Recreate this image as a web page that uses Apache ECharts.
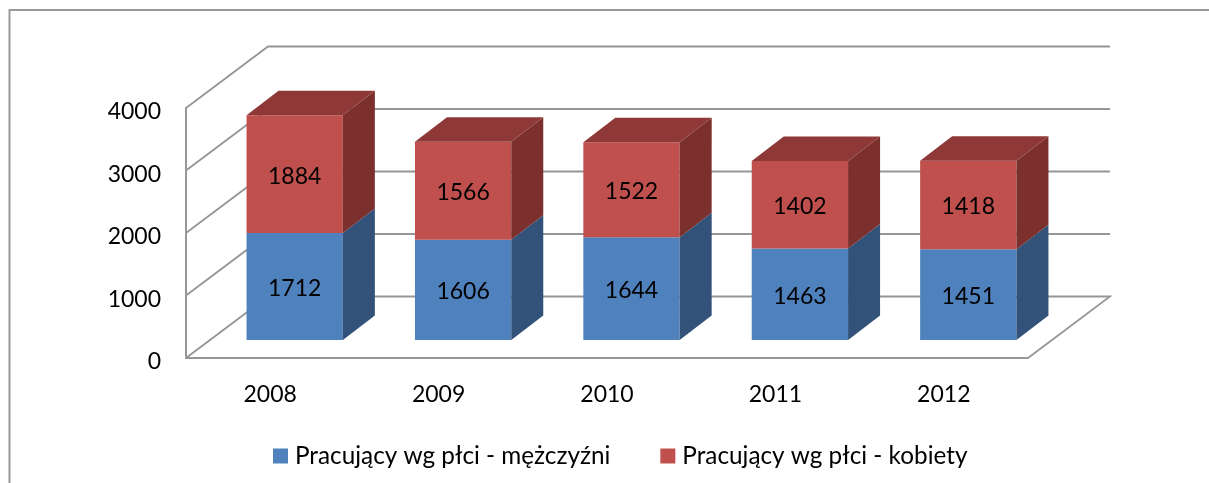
<!DOCTYPE html>
<html>
<head>
<meta charset="utf-8">
<title>Pracujący wg płci</title>
<style>
html, body { margin: 0; padding: 0; background: #fff; }
#chart { width: 1209px; height: 483px; }
</style>
<script src="https://cdn.jsdelivr.net/npm/echarts@6/dist/echarts.min.js"></script>
</head>
<body>
<div id="chart"></div>
<script>
var categories = ['2008', '2009', '2010', '2011', '2012'];
var men = [1712, 1606, 1644, 1463, 1451];
var women = [1884, 1566, 1522, 1402, 1418];
var yTicks = [0, 1000, 2000, 3000, 4000];
var menName = 'Pracujący wg płci - mężczyźni';
var womenName = 'Pracujący wg płci - kobiety';

// przesuniecia "3D" w pikselach
var wallDx = 82, wallDy = -61.5;
var barShiftX = 24.5, barShiftY = -18;
var barDx = 32, barDy = -24.5;
var barRatio = 0.572;

var FONT = 'Lato';
var LINE = '#969696';

var chart = echarts.init(document.getElementById('chart'), null, { renderer: 'canvas' });

function poly(points, color) {
    return { type: 'polygon', shape: { points: points }, style: { fill: color } };
}

// sciana i podloga
function renderWall(params, api) {
    var tick = api.value(1);
    var area = params.coordSys;
    var left = api.coord([0, tick]);
    var y = left[1];
    var x0 = area.x, x1 = area.x + area.width;
    var pts = [[x0, y], [x0 + wallDx, y + wallDy], [x1 + wallDx, y + wallDy]];
    if (tick === 0) pts.push([x1, y]);
    return {
        type: 'polyline',
        shape: { points: pts },
        style: { fill: 'none', stroke: LINE, lineWidth: 1.8 }
    };
}

// jeden segment slupka: front, bok, gora i etykieta
function renderBar(sideColor, topColor) {
    return function (params, api) {
        var low = api.coord([api.value(0), api.value(1)]);
        var high = api.coord([api.value(0), api.value(2)]);
        var w = api.size([1, 0])[0] * barRatio;
        var l = low[0] + barShiftX - w / 2, r = l + w;
        var b = low[1] + barShiftY, t = high[1] + barShiftY;
        var children = [
            { type: 'rect', shape: { x: l, y: t, width: w, height: b - t }, style: { fill: api.visual('color') } },
            poly([[r, b], [r + barDx, b + barDy], [r + barDx, t + barDy], [r, t]], sideColor)
        ];
        if (params.seriesName === womenName) {
            children.push(poly([[l, t], [l + barDx, t + barDy], [r + barDx, t + barDy], [r, t]], topColor));
        }
        children.push({
            type: 'text',
            x: (l + r) / 2,
            y: (t + b) / 2 + 2,
            style: { text: String(api.value(3)), fill: '#000', font: '23px ' + FONT, align: 'center', verticalAlign: 'middle' }
        });
        return { type: 'group', children: children };
    };
}

var wallData = yTicks.map(function (v) { return [0, v]; });
var menData = men.map(function (v, i) { return [i, 0, v, v]; });
var womenData = women.map(function (v, i) { return [i, men[i], men[i] + v, v]; });

var option = {
    animation: false,
    backgroundColor: '#fff',
    textStyle: { fontFamily: FONT },
    graphic: [{
        type: 'polyline',
        silent: true,
        shape: { points: [[9.5, 483], [9.5, 10], [1209, 10]] },
        style: { fill: 'none', stroke: '#999', lineWidth: 2 }
    }],
    grid: { left: 186, right: 181, top: 108, bottom: 125 },
    legend: {
        left: 273,
        top: 444,
        padding: 0,
        itemWidth: 15,
        itemHeight: 15,
        itemGap: 50,
        icon: 'rect',
        selectedMode: false,
        data: [menName, womenName],
        textStyle: { fontFamily: FONT, fontSize: 24.3, color: '#000', padding: [0, 0, 0, 2] }
    },
    xAxis: {
        type: 'category',
        data: categories,
        axisTick: { show: false },
        axisLine: { lineStyle: { color: LINE, width: 2 } },
        axisLabel: { color: '#000', fontFamily: FONT, fontSize: 23, margin: 25 }
    },
    yAxis: {
        type: 'value',
        min: 0,
        max: 4000,
        interval: 1000,
        splitLine: { show: false },
        axisTick: { show: false },
        axisLine: { show: true, lineStyle: { color: LINE, width: 2 } },
        axisLabel: {
            color: '#000',
            fontFamily: FONT,
            fontSize: 23,
            margin: 25,
            verticalAlign: 'top',
            lineHeight: 8,
            formatter: function (v) { return String(v); }
        }
    },
    series: [
        {
            type: 'custom',
            name: 'wall',
            silent: true,
            z: 1,
            renderItem: renderWall,
            encode: { x: 0, y: 1 },
            data: wallData
        },
        {
            type: 'custom',
            name: menName,
            z: 2,
            itemStyle: { color: '#4f81bd' },
            renderItem: renderBar('#325279', '#325279'),
            encode: { x: 0, y: [1, 2] },
            data: menData
        },
        {
            type: 'custom',
            name: womenName,
            z: 3,
            itemStyle: { color: '#c0504d' },
            renderItem: renderBar('#7c302e', '#8e3937'),
            encode: { x: 0, y: [1, 2] },
            data: womenData
        }
    ]
};
chart.setOption(option);
</script>
</body>
</html>
